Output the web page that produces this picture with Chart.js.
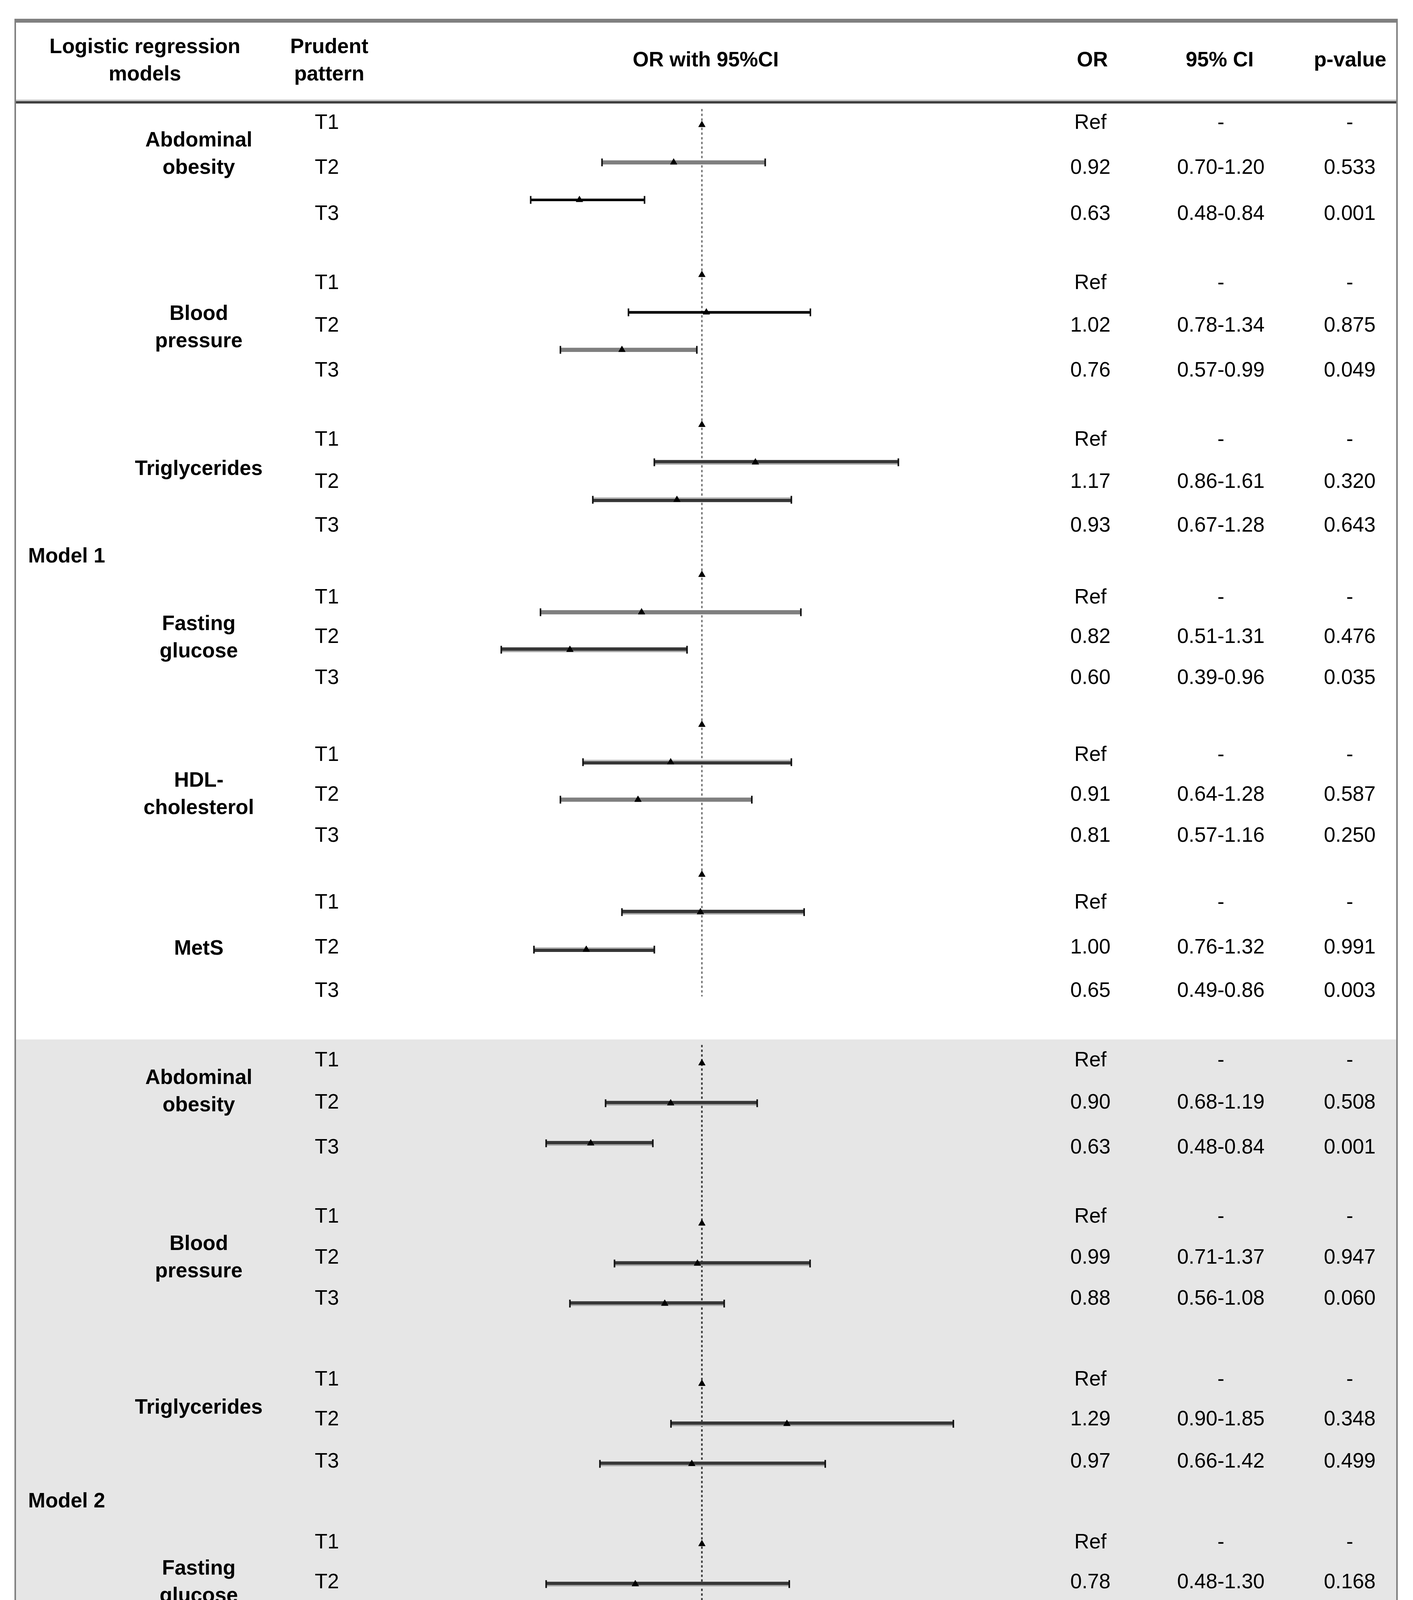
<!DOCTYPE html>
<html>
<head>
<meta charset="utf-8">
<script src="https://cdn.jsdelivr.net/npm/chart.js@4.4.1/dist/chart.umd.min.js"></script>
<style>
  html, body { margin: 0; padding: 0; background: #fff; }
  #page { position: relative; width: 3618px; height: 5148px; background: #fff;
          font-family: "Liberation Sans", Arial, sans-serif; color: #000; }
  .abs { position: absolute; }
  .t { position: absolute; transform: translate(-50%, -50%); white-space: nowrap;
       font-size: 53px; line-height: 1.2; text-align: center; }
  .b { font-weight: bold; }
  .l { transform: translate(0, -50%); text-align: left; }
  .ml { line-height: 70px; }
  canvas { position: absolute; left: 0; }
</style>
</head>
<body>
<div id="page">
  <!-- bande grise du modèle 2 -->
  <div class="abs" style="left:41px;top:2661px;width:3534px;height:2377px;background:#e6e6e6"></div>
  <!-- bordures du tableau -->
  <div class="abs" style="left:38px;top:48px;width:3541px;height:10px;background:#808080"></div>
  <div class="abs" style="left:38px;top:255px;width:3541px;height:4px;background:#c4c4c4"></div>
  <div class="abs" style="left:38px;top:259px;width:3541px;height:6px;background:#404040"></div>
  <div class="abs" style="left:37px;top:48px;width:4px;height:4998px;background:#808080"></div>
  <div class="abs" style="left:3575px;top:48px;width:4px;height:4998px;background:#808080"></div>
  <div class="abs" style="left:38px;top:5038px;width:3541px;height:5px;background:#000"></div>
  <div class="abs" style="left:38px;top:5043px;width:3541px;height:2px;background:#c8c8c8"></div>

  <canvas id="chart-m1" width="3618" height="2396" style="top:265px;width:3618px;height:2396px"></canvas>
  <canvas id="chart-m2" width="3618" height="2487" style="top:2661px;width:3618px;height:2487px"></canvas>
  <div id="texts"></div>
</div>

<script>
/* ── Données ─────────────────────────────── */
const groups    = ['Abdominal\nobesity', 'Blood\npressure', 'Triglycerides', 'Fasting\nglucose', 'HDL-\ncholesterol', 'MetS'];
const tertiles  = ['T1', 'T2', 'T3'];
const models    = ['Model 1', 'Model 2'];
const axisTicks = [0, 1, 2];
const REF_OR    = 1;

// OR tracés, T1 = référence
const m1Or = [1, 0.905, 0.588,  1, 1.015, 0.731,  1, 1.180, 0.916,  1, 0.797, 0.556,  1, 0.895, 0.785,  1, 0.995, 0.611];
const m1Lo = [null, 0.664, 0.424,  null, 0.753, 0.524,  null, 0.840, 0.633,  null, 0.457, 0.325,  null, 0.600, 0.524,  null, 0.731, 0.435];
const m1Hi = [null, 1.213, 0.807,  null, 1.365, 0.983,  null, 1.661, 1.301,  null, 1.333, 0.950,  null, 1.301, 1.168,  null, 1.344, 0.840];

const m2Or = [1, 0.895, 0.626,  1, 0.985, 0.875,  1, 1.286, 0.966,  1, 0.776, 0.575,  1, 1.025, 0.855,  1, 0.995, 0.645];
const m2Lo = [null, 0.676, 0.476,  null, 0.706, 0.556,  null, 0.896, 0.657,  null, 0.476, 0.345,  null, 0.664, 0.556,  null, 0.734, 0.465];
const m2Hi = [null, 1.186, 0.835,  null, 1.364, 1.075,  null, 1.846, 1.415,  null, 1.294, 0.935,  null, 1.576, 1.316,  null, 1.344, 0.875];

// Colonnes texte du tableau
const m1OrText = ['Ref', '0.92', '0.63', 'Ref', '1.02', '0.76', 'Ref', '1.17', '0.93', 'Ref', '0.82', '0.60', 'Ref', '0.91', '0.81', 'Ref', '1.00', '0.65'];
const m1CiText = ['-', '0.70-1.20', '0.48-0.84', '-', '0.78-1.34', '0.57-0.99', '-', '0.86-1.61', '0.67-1.28', '-', '0.51-1.31', '0.39-0.96', '-', '0.64-1.28', '0.57-1.16', '-', '0.76-1.32', '0.49-0.86'];
const m1PText  = ['-', '0.533', '0.001', '-', '0.875', '0.049', '-', '0.320', '0.643', '-', '0.476', '0.035', '-', '0.587', '0.250', '-', '0.991', '0.003'];

const m2OrText = ['Ref', '0.90', '0.63', 'Ref', '0.99', '0.88', 'Ref', '1.29', '0.97', 'Ref', '0.78', '0.58', 'Ref', '1.03', '0.86', 'Ref', '1.00', '0.65'];
const m2CiText = ['-', '0.68-1.19', '0.48-0.84', '-', '0.71-1.37', '0.56-1.08', '-', '0.90-1.85', '0.66-1.42', '-', '0.48-1.30', '0.35-0.94', '-', '0.67-1.58', '0.56-1.32', '-', '0.76-1.32', '0.47-0.88'];
const m2PText  = ['-', '0.508', '0.001', '-', '0.947', '0.060', '-', '0.348', '0.499', '-', '0.168', '0.039', '-', '0.783', '0.286', '-', '0.991', '0.004'];

/* ── Styles / mise en page ───────────────── */
const barStyles = {
  gray:    { backgroundColor: '#7f7f7f', barThickness: 10, borderWidth: 0 },
  black:   { backgroundColor: '#000000', barThickness: 6,  borderWidth: 0 },
  dark:    { backgroundColor: '#363636', barThickness: 12, borderWidth: { bottom: 4 }, borderColor: '#a9a9a9' },
  darkTop: { backgroundColor: '#363636', barThickness: 12, borderWidth: { top: 4 },    borderColor: '#b9b9b9' },
};
const m1Styles = [null, 'gray', 'black', null, 'black', 'gray', null, 'dark', 'darkTop', null, 'gray', 'dark', null, 'darkTop', 'gray', null, 'dark', 'darkTop'];
const m2Styles = [null, 'dark', 'dark', null, 'dark', 'dark', null, 'dark', 'dark', null, 'dark', 'dark', null, 'dark', 'dark', null, 'dark', 'dark'];

const X_MIN = -1.343, X_MAX = 3.374;
const m1YRange = { min: -0.425, max: 23.25 };
const m2YRange = { min: -0.455, max: 22.58 };

const colX = { model: 72, group: 509, tert: 837, or: 2792, ci: 3126, p: 3456 };
const m1RowY = [312, 427, 545, 722, 831, 946, 1123, 1231, 1343, 1527, 1628, 1733, 1930, 2032, 2137, 2308, 2423, 2534];
const m2RowY = [2712, 2820, 2935, 3112, 3217, 3322, 3529, 3631, 3739, 3946, 4048, 4153, 4363, 4468, 4573, 4780, 4882, 4990];
const m1GroupY = [392, 836, 1198, 1630, 2031, 2426];
const m2GroupY = [2792, 3217, 3601, 4048, 4467, 4882];
const modelY = [1422, 3841];

// ligne i (groupe g, tertile t) -> rang sur l'axe y, une ligne vide entre groupes
const rowOf = i => Math.floor(i / 3) * 4 + (i % 3);

/* ── Texte du tableau ────────────────────── */
function addText(txt, x, y, cls) {
  const d = document.createElement('div');
  d.className = 't ' + (cls || '');
  d.style.left = x + 'px';
  d.style.top = y + 'px';
  d.innerHTML = txt.replace(/\n/g, '<br>');
  document.getElementById('texts').appendChild(d);
}

addText('Logistic regression\nmodels', 371, 153, 'b ml');
addText('Prudent\npattern', 843, 153, 'b ml');
addText('OR with 95%CI', 1807, 152, 'b');
addText('OR', 2797, 152, 'b');
addText('95% CI', 3123, 152, 'b');
addText('p-value', 3457, 152, 'b');

[[m1RowY, m1GroupY, m1OrText, m1CiText, m1PText], [m2RowY, m2GroupY, m2OrText, m2CiText, m2PText]]
  .forEach(([rowY, groupY, orT, ciT, pT], m) => {
    addText(models[m], colX.model, modelY[m], 'b l');
    groups.forEach((g, gi) => addText(g, colX.group, groupY[gi], 'b ml'));
    rowY.forEach((y, i) => {
      addText(tertiles[i % 3], colX.tert, y);
      addText(orT[i], colX.or, y);
      addText(ciT[i], colX.ci, y);
      addText(pT[i], colX.p, y);
    });
  });

/* ── Chart.js ────────────────────────────── */
const refLine = {
  id: 'refLine',
  beforeDatasetsDraw(chart, args, opts) {
    const { ctx, chartArea } = chart;
    const x = chart.scales.x.getPixelForValue(REF_OR);
    ctx.save();
    ctx.strokeStyle = opts.color;
    ctx.lineWidth = 4;
    ctx.setLineDash([6, 6]);
    ctx.beginPath();
    ctx.moveTo(x, chartArea.top);
    ctx.lineTo(x, chartArea.bottom);
    ctx.stroke();
    ctx.restore();
  },
};

function buildDatasets(pt, lo, hi, styles) {
  const markers = pt.map((v, i) => ({ x: v, y: rowOf(i) }));
  const caps = [];
  lo.forEach((v, i) => {
    if (v == null) return;
    caps.push({ x: v, y: rowOf(i) }, { x: hi[i], y: rowOf(i) });
  });
  const sets = [
    { type: 'scatter', data: markers, order: 0, pointStyle: 'triangle', pointRadius: 10,
      backgroundColor: '#000', borderColor: '#000', borderWidth: 1 },
    { type: 'scatter', data: caps, order: 1, pointStyle: 'line', rotation: 90, pointRadius: 10,
      borderColor: '#111', borderWidth: 4 },
  ];
  Object.keys(barStyles).forEach(k => {
    const data = [];
    styles.forEach((s, i) => { if (s === k) data.push({ x: [lo[i], hi[i]], y: rowOf(i) }); });
    if (!data.length) return;
    sets.push({ type: 'bar', indexAxis: 'y', data, order: 2, grouped: false,
                borderSkipped: false, ...barStyles[k] });
  });
  return sets;
}

function makeChart(id, pt, lo, hi, styles, yRange, lineColor, showAxis) {
  return new Chart(document.getElementById(id), {
    type: 'scatter',
    data: { datasets: buildDatasets(pt, lo, hi, styles) },
    options: {
      responsive: false,
      animation: false,
      devicePixelRatio: 1,
      layout: { padding: 0 },
      plugins: { legend: { display: false }, tooltip: { enabled: false }, refLine: { color: lineColor } },
      scales: {
        x: {
          type: 'linear', min: X_MIN, max: X_MAX, display: showAxis, offset: false,
          grid: { display: false, drawTicks: false, offset: false },
          border: { display: false },
          ticks: { font: { size: 30, family: 'Liberation Sans' }, color: '#404040', padding: 14 },
          afterBuildTicks: s => { s.ticks = axisTicks.map(v => ({ value: v })); },
          afterFit: s => { s.height = 110; },
        },
        y: { type: 'linear', reverse: true, min: yRange.min, max: yRange.max, display: false,
             offset: false, grid: { offset: false } },
      },
    },
    plugins: [refLine],
  });
}

makeChart('chart-m1', m1Or, m1Lo, m1Hi, m1Styles, m1YRange, '#7a7a7a', false);
makeChart('chart-m2', m2Or, m2Lo, m2Hi, m2Styles, m2YRange, '#3a3a3a', true);
</script>
</body>
</html>
